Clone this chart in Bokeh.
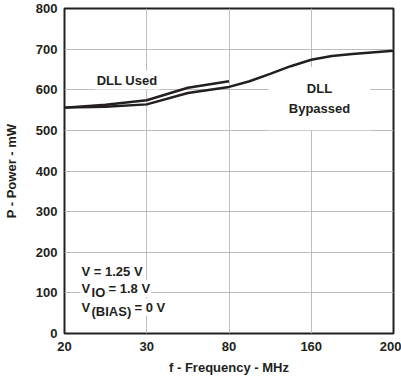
import numpy as np
from bokeh.plotting import figure
from bokeh.models import FixedTicker, ColumnDataSource
from bokeh.embed import file_html
from bokeh.resources import INLINE
from bokeh.core.properties import value

# ---- data ----
tick_freqs = [20, 30, 80, 160, 200]
tick_labels = ["20", "30", "80", "160", "200"]
y_ticks = [0, 100, 200, 300, 400, 500, 600, 700, 800]

freq_used = [20, 25, 30, 55, 80]
power_used = [556, 563, 574, 605, 621]

freq_byp = [20, 25, 30, 55, 80, 100, 120, 140, 160, 170, 180, 200]
power_byp = [556, 558, 564, 592, 607, 621, 639, 658, 674, 683, 688, 696]

tick_pos = list(range(len(tick_freqs)))


def to_axis(f):
    # the frequency axis is drawn with equally spaced (non-linear) ticks
    return np.interp(f, tick_freqs, tick_pos)


INK = "#231f20"
FONT = value("Liberation Sans")

p = figure(width=401, height=377, x_range=(0, 4), y_range=(0, 800),
           output_backend="svg", toolbar_location=None,
           min_border_left=64, min_border_right=8, min_border_top=8,
           min_border_bottom=44)

p.outline_line_color = INK
p.outline_line_width = 2
p.background_fill_color = "white"

p.xaxis.ticker = FixedTicker(ticks=tick_pos)
p.xaxis.major_label_overrides = {i: s for i, s in zip(tick_pos, tick_labels)}
p.yaxis.ticker = FixedTicker(ticks=y_ticks)

for ax in (p.xaxis[0], p.yaxis[0]):
    ax.axis_line_color = None
    ax.major_tick_line_color = None
    ax.minor_tick_line_color = None
    ax.major_tick_out = 0
    ax.major_tick_in = 0
    ax.major_label_text_font = "Liberation Sans"
    ax.major_label_text_font_style = "bold"
    ax.major_label_text_font_size = "13px"
    ax.major_label_text_color = INK
    ax.axis_label_text_font = "Liberation Sans"
    ax.axis_label_text_font_style = "bold"
    ax.axis_label_text_font_size = "13px"
    ax.axis_label_text_color = INK

p.xaxis.axis_label = "f - Frequency - MHz"
p.yaxis.axis_label = "P - Power - mW"
p.xaxis.major_label_standoff = 8
p.yaxis.major_label_standoff = 7
p.xaxis.axis_label_standoff = 6
p.yaxis.axis_label_standoff = 14

p.xgrid.ticker = FixedTicker(ticks=tick_pos)
p.ygrid.ticker = FixedTicker(ticks=y_ticks)
p.grid.grid_line_color = "#bdbdbd"
p.grid.grid_line_width = 1

# ---- text annotations (white boxes hide the grid behind them) ----
p.text(x=[0.76], y=[624], text=["DLL Used"], text_font=FONT,
       text_font_style="bold", text_font_size="13px", text_color=INK,
       text_align="center", text_baseline="middle",
       background_fill_color="white", padding=2)

p.text(x=[3.10], y=[578], text=["DLL\nBypassed"], text_font=FONT,
       text_font_style="bold", text_font_size="13px", text_color=INK,
       text_align="center", text_baseline="middle", text_line_height=1.35,
       background_fill_color="white", padding=(20, 14))

ax0 = 0.195
# subscripts first, so that the main texts are drawn over their boxes
sub = ColumnDataSource(dict(x=[ax0, ax0], y=[110, 65], text=["IO", "(BIAS)"],
                            xo=[10, 10]))
p.text(x="x", y="y", text="text", x_offset="xo", y_offset=4, source=sub,
       text_font=FONT, text_font_style="bold", text_font_size="13px",
       text_color=INK, text_align="left", text_baseline="middle",
       background_fill_color="white", padding=1)

cond = ColumnDataSource(dict(
    x=[ax0, ax0, ax0, ax0, ax0],
    y=[152, 110, 110, 65, 65],
    text=["V = 1.25 V", "V", "= 1.8 V", "V", "= 0 V"],
    xo=[0, 0, 27, 0, 53],
))
p.text(x="x", y="y", text="text", x_offset="xo", source=cond,
       text_font=FONT, text_font_style="bold", text_font_size="13px",
       text_color=INK, text_align="left", text_baseline="middle",
       background_fill_color="white", padding=1)

# ---- curves ----
p.line(to_axis(freq_byp), power_byp, line_color=INK, line_width=2.5)
p.line(to_axis(freq_used), power_used, line_color=INK, line_width=2.5)

open("out.html", "w").write(file_html(p, INLINE))
